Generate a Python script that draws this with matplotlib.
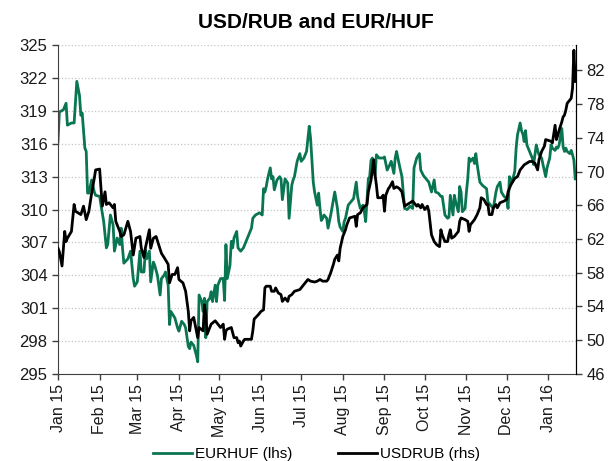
import pandas as pd
import matplotlib
matplotlib.use('Agg')
import matplotlib.pyplot as plt
import matplotlib.dates as mdates
from matplotlib.lines import Line2D

plt.rcParams['font.family'] = ['Liberation Sans', 'DejaVu Sans']

title = 'USD/RUB and EUR/HUF'
eurhuf_label = 'EURHUF (lhs)'
usdrub_label = 'USDRUB (rhs)'

# EUR/HUF (left axis)
eurhuf_dates = [
    '2015-01-01', '2015-01-02', '2015-01-05', '2015-01-07', '2015-01-08', '2015-01-11', '2015-01-13',
    '2015-01-15', '2015-01-17', '2015-01-18', '2015-01-19', '2015-01-21', '2015-01-22', '2015-01-23',
    '2015-01-24', '2015-01-26', '2015-01-28', '2015-01-29', '2015-02-01', '2015-02-02', '2015-02-04',
    '2015-02-06', '2015-02-07', '2015-02-09', '2015-02-11', '2015-02-12', '2015-02-14', '2015-02-16',
    '2015-02-17', '2015-02-18', '2015-02-19', '2015-02-22', '2015-02-24', '2015-02-26', '2015-02-27',
    '2015-03-01', '2015-03-03', '2015-03-04', '2015-03-06', '2015-03-07', '2015-03-08', '2015-03-10',
    '2015-03-11', '2015-03-13', '2015-03-14', '2015-03-16', '2015-03-18', '2015-03-19', '2015-03-21',
    '2015-03-22', '2015-03-24', '2015-03-25', '2015-03-26', '2015-03-29', '2015-03-31', '2015-04-01',
    '2015-04-03', '2015-04-05', '2015-04-06', '2015-04-08', '2015-04-09', '2015-04-10', '2015-04-12',
    '2015-04-14', '2015-04-15', '2015-04-16', '2015-04-18', '2015-04-19', '2015-04-20', '2015-04-21',
    '2015-04-22', '2015-04-24', '2015-04-25', '2015-04-26', '2015-04-28', '2015-04-29', '2015-04-30',
    '2015-05-02', '2015-05-04', '2015-05-05', '2015-05-06', '2015-05-07', '2015-05-09', '2015-05-10',
    '2015-05-11', '2015-05-12', '2015-05-14', '2015-05-15', '2015-05-17', '2015-05-19', '2015-05-20',
    '2015-05-21', '2015-05-23', '2015-05-25', '2015-05-26', '2015-05-28', '2015-05-31', '2015-06-02',
    '2015-06-03', '2015-06-04', '2015-06-05', '2015-06-06', '2015-06-08', '2015-06-09', '2015-06-10',
    '2015-06-11', '2015-06-13', '2015-06-15', '2015-06-16', '2015-06-17', '2015-06-19', '2015-06-21',
    '2015-06-22', '2015-06-24', '2015-06-25', '2015-06-26', '2015-06-28', '2015-06-30', '2015-07-01',
    '2015-07-03', '2015-07-05', '2015-07-07', '2015-07-08', '2015-07-10', '2015-07-11', '2015-07-13',
    '2015-07-14', '2015-07-15', '2015-07-16', '2015-07-17', '2015-07-18', '2015-07-20', '2015-07-21',
    '2015-07-23', '2015-07-25', '2015-07-26', '2015-07-28', '2015-07-29', '2015-07-30', '2015-08-01',
    '2015-08-02', '2015-08-03', '2015-08-05', '2015-08-07', '2015-08-09', '2015-08-11', '2015-08-12',
    '2015-08-13', '2015-08-14', '2015-08-16', '2015-08-17', '2015-08-18', '2015-08-20', '2015-08-21',
    '2015-08-22', '2015-08-23', '2015-08-25', '2015-08-26', '2015-08-28', '2015-08-31', '2015-09-01',
    '2015-09-03', '2015-09-05', '2015-09-06', '2015-09-08', '2015-09-09', '2015-09-10', '2015-09-12',
    '2015-09-14', '2015-09-15', '2015-09-16', '2015-09-18', '2015-09-20', '2015-09-22', '2015-09-23',
    '2015-09-25', '2015-09-27', '2015-09-28', '2015-09-30', '2015-10-02', '2015-10-04', '2015-10-06',
    '2015-10-08', '2015-10-09', '2015-10-11', '2015-10-13', '2015-10-14', '2015-10-16', '2015-10-18',
    '2015-10-19', '2015-10-20', '2015-10-21', '2015-10-22', '2015-10-23', '2015-10-24', '2015-10-26',
    '2015-10-27', '2015-10-28', '2015-10-29', '2015-10-31', '2015-11-01', '2015-11-02', '2015-11-03',
    '2015-11-04', '2015-11-06', '2015-11-07', '2015-11-08', '2015-11-09', '2015-11-11', '2015-11-13',
    '2015-11-16', '2015-11-17', '2015-11-19', '2015-11-21', '2015-11-23', '2015-11-24', '2015-11-26',
    '2015-11-27', '2015-11-29', '2015-12-01', '2015-12-02', '2015-12-03', '2015-12-04', '2015-12-06',
    '2015-12-07', '2015-12-08', '2015-12-09', '2015-12-11', '2015-12-12', '2015-12-13', '2015-12-14',
    '2015-12-15', '2015-12-16', '2015-12-18', '2015-12-20', '2015-12-21', '2015-12-23', '2015-12-24',
    '2015-12-25', '2015-12-27', '2015-12-28', '2015-12-30', '2015-12-31', '2016-01-02', '2016-01-03',
    '2016-01-04', '2016-01-06', '2016-01-07', '2016-01-08', '2016-01-09', '2016-01-11', '2016-01-12',
    '2016-01-13', '2016-01-14', '2016-01-15', '2016-01-17', '2016-01-18', '2016-01-19', '2016-01-20',
    '2016-01-21',
]
eurhuf = [
    316.2, 318.9, 319.1, 319.7, 317.7, 317.9, 317.9,
    321.7, 320.4, 318.6, 318.8, 315.6, 315.3, 311.5,
    311.5, 312.7, 311.6, 311.3, 311.2, 310.4, 308.9,
    306.5, 306.8, 309.5, 308.6, 306.2, 307.4, 306.8,
    308.3, 306.5, 305.1, 305.5, 306.2, 303.7, 303.0,
    303.4, 306.2, 304.3, 304.3, 306.3, 305.5, 306.2,
    303.4, 305.2, 304.9, 304.0, 302.2, 303.7, 304.0,
    304.3, 303.1, 299.5, 300.7, 300.1, 299.2, 298.9,
    299.8, 299.5, 299.2, 297.5, 297.3, 297.9, 297.6,
    296.7, 296.1, 302.2, 301.6, 300.7, 301.9, 298.3,
    301.6, 301.9, 302.5, 301.6, 303.1, 301.6, 303.1,
    303.7, 303.7, 301.7, 306.8, 303.7, 304.9, 307.1,
    306.5, 307.4, 308.0, 306.5, 306.2, 306.5, 306.8,
    307.1, 307.7, 308.3, 309.2, 309.5, 309.7, 309.5,
    311.9, 311.6, 312.1, 312.8, 313.8, 312.8, 313.0,
    311.8, 312.7, 313.0, 312.8, 310.9, 312.8, 312.4,
    309.2, 312.2, 312.7, 313.0, 314.4, 315.1, 314.4,
    314.7, 315.3, 317.6, 316.5, 312.5, 311.6, 310.4,
    311.5, 310.1, 309.0, 309.2, 309.5, 309.2, 308.3,
    309.5, 310.9, 311.6, 310.1, 308.9, 308.4, 308.0,
    308.9, 309.2, 310.4, 310.7, 311.0, 312.5, 311.2,
    310.6, 310.1, 310.4, 309.8, 308.9, 312.8, 313.0,
    314.5, 314.7, 313.1, 315.0, 314.7, 314.7, 314.8,
    313.6, 314.1, 314.4, 313.3, 314.7, 315.3, 314.1,
    313.0, 311.6, 310.1, 310.0, 310.3, 310.1, 313.8,
    314.7, 315.1, 313.6, 313.1, 312.8, 312.5, 311.6,
    312.7, 311.6, 311.5, 311.2, 311.2, 309.5, 309.2,
    309.3, 311.3, 310.4, 309.5, 311.3, 310.7, 309.8,
    312.1, 311.6, 309.8, 310.1, 311.6, 312.8, 314.7,
    314.4, 314.7, 314.2, 315.1, 314.1, 312.5, 312.2,
    311.9, 310.7, 310.4, 310.1, 311.6, 312.1, 312.5,
    311.6, 311.2, 311.0, 310.1, 313.0, 312.5, 313.0,
    313.5, 315.6, 316.8, 317.9, 317.2, 316.9, 316.2,
    317.2, 315.9, 315.3, 314.7, 314.1, 315.9, 315.4,
    315.0, 314.7, 314.1, 313.0, 313.8, 314.7, 315.9,
    315.6, 315.4, 315.7, 315.6, 315.9, 317.4, 315.7,
    315.3, 315.6, 315.3, 315.1, 315.4, 315.0, 314.5,
    312.8,
]

# USD/RUB (right axis)
usdrub_dates = [
    '2015-01-01', '2015-01-02', '2015-01-04', '2015-01-06', '2015-01-07', '2015-01-08', '2015-01-11',
    '2015-01-13', '2015-01-14', '2015-01-16', '2015-01-18', '2015-01-20', '2015-01-22', '2015-01-24',
    '2015-01-26', '2015-01-28', '2015-01-29', '2015-02-01', '2015-02-02', '2015-02-03', '2015-02-05',
    '2015-02-06', '2015-02-08', '2015-02-11', '2015-02-12', '2015-02-13', '2015-02-16', '2015-02-17',
    '2015-02-19', '2015-02-22', '2015-02-24', '2015-02-26', '2015-02-28', '2015-03-03', '2015-03-04',
    '2015-03-06', '2015-03-07', '2015-03-10', '2015-03-11', '2015-03-13', '2015-03-15', '2015-03-17',
    '2015-03-19', '2015-03-21', '2015-03-24', '2015-03-25', '2015-03-27', '2015-03-29', '2015-03-31',
    '2015-04-01', '2015-04-04', '2015-04-06', '2015-04-08', '2015-04-09', '2015-04-10', '2015-04-12',
    '2015-04-14', '2015-04-15', '2015-04-16', '2015-04-19', '2015-04-20', '2015-04-21', '2015-04-22',
    '2015-04-25', '2015-04-28', '2015-04-30', '2015-05-02', '2015-05-04', '2015-05-05', '2015-05-06',
    '2015-05-07', '2015-05-10', '2015-05-12', '2015-05-14', '2015-05-15', '2015-05-16', '2015-05-17',
    '2015-05-19', '2015-05-20', '2015-05-25', '2015-05-26', '2015-05-27', '2015-05-30', '2015-06-01',
    '2015-06-03', '2015-06-04', '2015-06-05', '2015-06-08', '2015-06-09', '2015-06-11', '2015-06-12',
    '2015-06-14', '2015-06-16', '2015-06-17', '2015-06-19', '2015-06-20', '2015-06-21', '2015-06-22',
    '2015-06-24', '2015-06-26', '2015-06-30', '2015-07-01', '2015-07-03', '2015-07-06', '2015-07-08',
    '2015-07-11', '2015-07-13', '2015-07-15', '2015-07-17', '2015-07-20', '2015-07-21', '2015-07-23',
    '2015-07-25', '2015-07-26', '2015-07-28', '2015-07-29', '2015-07-30', '2015-08-01', '2015-08-03',
    '2015-08-04', '2015-08-06', '2015-08-10', '2015-08-11', '2015-08-12', '2015-08-14', '2015-08-16',
    '2015-08-19', '2015-08-20', '2015-08-22', '2015-08-23', '2015-08-24', '2015-08-25', '2015-08-26',
    '2015-08-27', '2015-08-30', '2015-08-31', '2015-09-01', '2015-09-02', '2015-09-04', '2015-09-05',
    '2015-09-07', '2015-09-08', '2015-09-10', '2015-09-12', '2015-09-14', '2015-09-16', '2015-09-20',
    '2015-09-22', '2015-09-25', '2015-09-26', '2015-09-28', '2015-09-29', '2015-10-01', '2015-10-03',
    '2015-10-04', '2015-10-06', '2015-10-08', '2015-10-10', '2015-10-12', '2015-10-13', '2015-10-14',
    '2015-10-16', '2015-10-18', '2015-10-19', '2015-10-20', '2015-10-21', '2015-10-23', '2015-10-26',
    '2015-10-27', '2015-10-28', '2015-10-31', '2015-11-02', '2015-11-03', '2015-11-04', '2015-11-07',
    '2015-11-09', '2015-11-11', '2015-11-12', '2015-11-14', '2015-11-16', '2015-11-17', '2015-11-18',
    '2015-11-20', '2015-11-21', '2015-11-23', '2015-11-24', '2015-11-26', '2015-11-29', '2015-12-01',
    '2015-12-02', '2015-12-04', '2015-12-07', '2015-12-09', '2015-12-11', '2015-12-12', '2015-12-14',
    '2015-12-18', '2015-12-20', '2015-12-22', '2015-12-24', '2015-12-25', '2015-12-27', '2015-12-29',
    '2015-12-30', '2016-01-03', '2016-01-04', '2016-01-06', '2016-01-07', '2016-01-08', '2016-01-09',
    '2016-01-11', '2016-01-12', '2016-01-13', '2016-01-14', '2016-01-15', '2016-01-17', '2016-01-18',
    '2016-01-19', '2016-01-20', '2016-01-21',
]
usdrub = [
    60.9, 60.5, 58.8, 62.9, 61.7, 62.1, 62.9,
    66.1, 65.3, 65.1, 64.9, 65.9, 64.3, 65.3,
    67.4, 69.2, 70.2, 70.3, 68.0, 65.9, 67.6,
    66.1, 66.3, 65.7, 66.1, 64.1, 62.9, 62.3,
    62.5, 64.1, 62.9, 60.1, 62.1, 62.3, 60.9,
    59.8, 60.9, 63.1, 60.9, 62.1, 62.3, 61.3,
    60.3, 59.8, 59.0, 56.8, 57.8, 57.8, 58.6,
    57.2, 56.8, 55.8, 53.4, 51.1, 52.3, 52.7,
    51.1, 50.3, 51.5, 51.1, 54.2, 53.0, 50.7,
    51.9, 52.3, 51.9, 51.5, 51.9, 50.1, 51.1,
    51.3, 51.5, 50.3, 50.3, 49.7, 49.9, 49.3,
    49.9, 50.1, 50.1, 51.1, 52.5, 53.0, 53.4,
    53.6, 56.2, 56.4, 56.4, 55.8, 55.8, 56.2,
    55.6, 55.4, 54.6, 55.0, 54.8, 54.6, 55.2,
    55.4, 55.8, 56.0, 56.2, 56.6, 57.2, 57.0,
    56.9, 57.0, 57.2, 57.0, 57.0, 57.2, 58.0,
    59.0, 59.6, 60.1, 59.4, 60.9, 62.3, 63.1,
    63.7, 64.5, 64.7, 63.5, 64.9, 65.1, 65.7,
    66.1, 67.6, 69.0, 70.2, 71.4, 69.6, 68.4,
    66.9, 66.9, 67.2, 65.3, 67.2, 68.0, 68.2,
    68.8, 68.0, 68.2, 68.0, 67.6, 65.9, 66.3,
    66.5, 65.9, 66.1, 65.7, 66.1, 65.5, 65.9,
    65.3, 62.5, 61.7, 61.3, 61.1, 63.1, 62.5,
    61.7, 61.7, 62.5, 63.1, 62.1, 62.3, 62.9,
    64.1, 64.5, 64.3, 64.1, 62.9, 63.7, 64.3,
    64.9, 65.7, 66.9, 66.7, 66.1, 66.1, 64.9,
    64.9, 65.7, 66.1, 65.7, 66.3, 66.5, 66.7,
    67.6, 68.4, 69.2, 69.4, 70.2, 70.4, 70.8,
    71.2, 71.2, 71.0, 70.2, 71.4, 72.4, 73.0,
    73.8, 73.6, 73.4, 75.5, 73.8, 74.3, 74.9,
    75.9, 76.5, 76.7, 77.3, 78.1, 78.5, 78.7,
    79.9, 84.4, 80.7,
]

green = '#0a7552'
axis_col = '#404040'
grid_col = '#c4c4c4'

fig = plt.figure(figsize=(6.08, 4.61), dpi=100)
ax = fig.add_axes([0.0954, 0.189, 0.852, 0.713])
ax2 = ax.twinx()

ax.plot(pd.to_datetime(eurhuf_dates), eurhuf, color=green, lw=2)
ax2.plot(pd.to_datetime(usdrub_dates), usdrub, color='black', lw=2)

ax.set_xlim(pd.Timestamp('2015-01-01'), pd.Timestamp('2016-01-21 14:00'))
ax.set_ylim(295, 325)
ax.set_yticks(range(295, 326, 3))
ax2.set_ylim(46, 85)
ax2.set_yticks(range(46, 83, 4))

ax.xaxis.set_major_locator(mdates.MonthLocator())
ax.xaxis.set_major_formatter(mdates.DateFormatter('%b %y'))
for lbl in ax.get_xticklabels():
    lbl.set_rotation(90)

ax.yaxis.grid(True, linestyle=':', color=grid_col, lw=0.9)
ax.set_axisbelow(True)

for a in (ax, ax2):
    a.spines['top'].set_visible(False)
    a.tick_params(labelsize=12, direction='out', length=4, width=1, colors=axis_col, labelcolor='#1a1a1a')
ax.tick_params(axis='x', labelsize=11.5)
ax.spines['left'].set_color(axis_col)
ax.spines['bottom'].set_color(axis_col)
ax2.spines['right'].set_color('black')
ax2.spines['left'].set_visible(False)
ax2.spines['bottom'].set_visible(False)

fig.suptitle(title, x=0.52, y=0.972, fontsize=15, fontweight='bold')

handles = [Line2D([], [], color=green, lw=2), Line2D([], [], color='black', lw=2)]
fig.legend(handles, [eurhuf_label, usdrub_label], loc='lower center', bbox_to_anchor=(0.52, -0.03),
           ncol=2, frameon=False, fontsize=11, handlelength=2.6, handletextpad=0.15, columnspacing=3.0)

fig.savefig('out.png', dpi=100)
